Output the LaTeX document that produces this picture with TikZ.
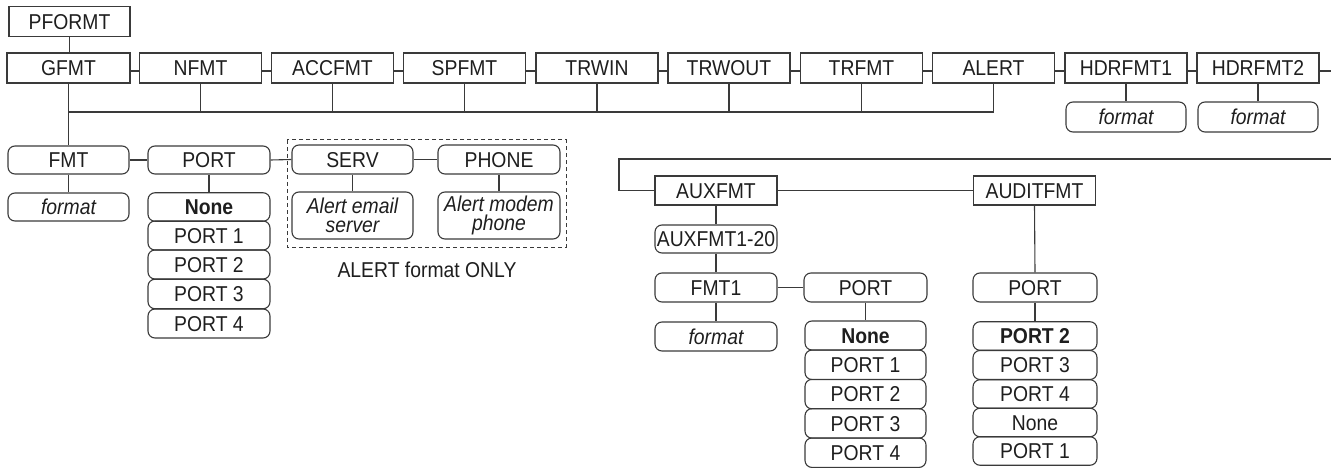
\documentclass[tikz,border=0pt]{standalone}
\usepackage{fontspec}
\setmainfont{Liberation Sans}[FakeStretch=0.9]
\definecolor{lc}{HTML}{3A3A3A}
\definecolor{tc}{HTML}{1E1E1E}
\newcommand\dfont{\fontsize{21.5}{19.5}\selectfont}
\begin{document}
\begin{tikzpicture}[x=1pt,y=-1pt,
  conn/.style={draw=lc,line width=1.1pt},
  sq/.style={draw=lc,line width=1.1pt,rectangle,inner sep=0pt,
    minimum width=122pt,minimum height=29.5pt,font=\dfont,text=tc,
    text height=15.4pt,text depth=0pt},
  rd/.style={sq,rounded corners=7pt},
  rdtwo/.style={draw=lc,line width=1.1pt,rectangle,rounded corners=7pt,inner sep=0pt,
    minimum width=122pt,minimum height=47pt,font=\dfont\itshape,text=tc,align=center},
  itl/.style={font=\dfont\itshape},
  bld/.style={font=\dfont\bfseries}]
\useasboundingbox (0,0) rectangle (1331,468);

% top row
\node[sq,minimum width=121pt] (pformt) at (69.5,21.5) {PFORMT};
\node[sq,minimum width=123pt,minimum height=30pt] (gfmt) at (68.5,68) {GFMT};
\node[sq,minimum height=30pt] (nfmt) at (200.5,68) {NFMT};
\node[sq,minimum height=30pt] (accfmt) at (332.5,68) {ACCFMT};
\node[sq,minimum height=30pt] (spfmt) at (464.5,68) {SPFMT};
\node[sq,minimum height=30pt] (trwin) at (597,68) {TRWIN};
\node[sq,minimum height=30pt] (trwout) at (729,68) {TRWOUT};
\node[sq,minimum height=30pt] (trfmt) at (861.5,68) {TRFMT};
\node[sq,minimum height=30pt] (alert) at (993.5,68) {ALERT};
\node[sq,minimum height=30pt] (hdr1) at (1126,68) {HDRFMT1};
\node[sq,minimum height=30pt] (hdr2) at (1258,68) {HDRFMT2};
\node[rd,itl,minimum width=120pt,minimum height=30pt] (hf1) at (1126,117) {format};
\node[rd,itl,minimum width=120pt,minimum height=30pt] (hf2) at (1258,117) {format};

\coordinate (bus) at (0,112);
\coordinate (redgeA) at (1331,71);

\draw[conn] (pformt.south) -- (pformt.south |- gfmt.north);
\foreach \a/\b in {gfmt/nfmt,nfmt/accfmt,accfmt/spfmt,spfmt/trwin,trwin/trwout,trwout/trfmt,trfmt/alert,alert/hdr1,hdr1/hdr2}
  \draw[conn] ([yshift=-3pt]\a.east) -- ([yshift=-3pt]\b.west);
\draw[conn] ([yshift=-3pt]hdr2.east) -- (redgeA);
\foreach \n in {nfmt,accfmt,spfmt,trwin,trwout,trfmt,alert}
  \draw[conn] (\n.south) -- (\n.south |- bus);
\draw[conn] (gfmt.south |- bus) -- (alert.south |- bus);
\draw[conn] (hdr1.south) -- (hf1.north);
\draw[conn] (hdr2.south) -- (hf2.north);

% left lower group
\node[rd,minimum width=121pt,minimum height=28pt] (fmt) at (68.5,160) {FMT};
\node[rd,itl,minimum width=121pt,minimum height=28pt] (fmtf) at (68.5,207) {format};
\node[rd,minimum height=28pt] (port) at (209,160) {PORT};
\node[rd,bld,minimum height=28.5pt] (pn) at (209,207) {None};
\node[rd,minimum height=29pt] (p1) at (209,235.5) {PORT 1};
\node[rd,minimum height=29pt] (p2) at (209,264.5) {PORT 2};
\node[rd,minimum height=29.5pt] (p3) at (209,294) {PORT 3};
\node[rd,minimum height=29pt] (p4) at (209,323.5) {PORT 4};

\draw[conn] (gfmt.south) -- (gfmt.south |- fmt.north);
\draw[conn] (fmt.south) -- (fmt.south |- fmtf.north);
\draw[conn] (fmt.east) -- (port.west);
\draw[conn] (port.south) -- (pn.north);

% alert-only group
\draw[lc,line width=1pt,dashed,dash pattern=on 4pt off 3pt] (287,140) rectangle (566,247);
\node[rd,minimum width=121pt,minimum height=29pt] (serv) at (352.5,159.5) {SERV};
\node[rd,minimum height=29pt] (phone) at (499,159.5) {PHONE};
\node[rdtwo,minimum width=121pt] (servv) at (352.5,215.5) {Alert email\\server};
\node[rdtwo] (phonev) at (499,215.5) {Alert modem\\phone};
\node[font=\dfont,text=tc,inner sep=0pt] (only) at (427,270) {ALERT format ONLY};

\draw[conn] (port.east) -- (serv.west);
\draw[conn] (serv.east) -- (phone.west);
\draw[conn] (serv.south) -- (servv.north);
\draw[conn] (phone.south) -- (phonev.north);

% right lower group
\coordinate (redgeB) at (1331,159);
\coordinate (corner) at (619,159);
\node[sq,minimum height=29pt] (auxfmt) at (716,190.5) {AUXFMT};
\node[sq,minimum height=29pt] (auditfmt) at (1034.5,190.5) {AUDITFMT};
\node[rd,minimum height=28pt] (aux120) at (716,239) {AUXFMT1-20};
\node[rd,minimum height=29pt] (fmt1) at (716,287.5) {FMT1};
\node[rd,itl,minimum height=29pt] (fmt1f) at (716,336.5) {format};
\node[rd,minimum width=123pt,minimum height=29pt] (aport) at (865.5,287.5) {PORT};
\node[rd,bld,minimum width=121pt,minimum height=29pt] (an) at (865.5,335.5) {None};
\node[rd,minimum width=121pt,minimum height=29.5pt] (a1) at (865.5,364.8) {PORT 1};
\node[rd,minimum width=121pt,minimum height=29.5pt] (a2) at (865.5,394.1) {PORT 2};
\node[rd,minimum width=121pt,minimum height=29.5pt] (a3) at (865.5,423.4) {PORT 3};
\node[rd,minimum width=121pt,minimum height=29.5pt] (a4) at (865.5,452.7) {PORT 4};

\node[rd,minimum width=124pt,minimum height=29pt] (dport) at (1035,287.5) {PORT};
\node[rd,bld,minimum width=124pt,minimum height=28.5pt] (d2) at (1035,336) {PORT 2};
\node[rd,minimum width=124pt,minimum height=29pt] (d3) at (1035,365) {PORT 3};
\node[rd,minimum width=124pt,minimum height=28.5pt] (d4) at (1035,394) {PORT 4};
\node[rd,minimum width=124pt,minimum height=28.5pt] (dn) at (1035,422.5) {None};
\node[rd,minimum width=124pt,minimum height=28.5pt] (d1) at (1035,451) {PORT 1};

\draw[conn] (redgeB) -- (corner) |- (auxfmt.west);
\draw[conn] (auxfmt.east) -- (auditfmt.west);
\draw[conn] (auxfmt.south) -- (aux120.north);
\draw[conn] (aux120.south) -- (fmt1.north);
\draw[conn] (fmt1.south) -- (fmt1f.north);
\draw[conn] (fmt1.east) -- (aport.west);
\draw[conn] (aport.south) -- (an.north);
\draw[conn] (auditfmt.south) -- (dport.north);
\draw[conn] (dport.south) -- (d2.north);
\end{tikzpicture}
\end{document}
